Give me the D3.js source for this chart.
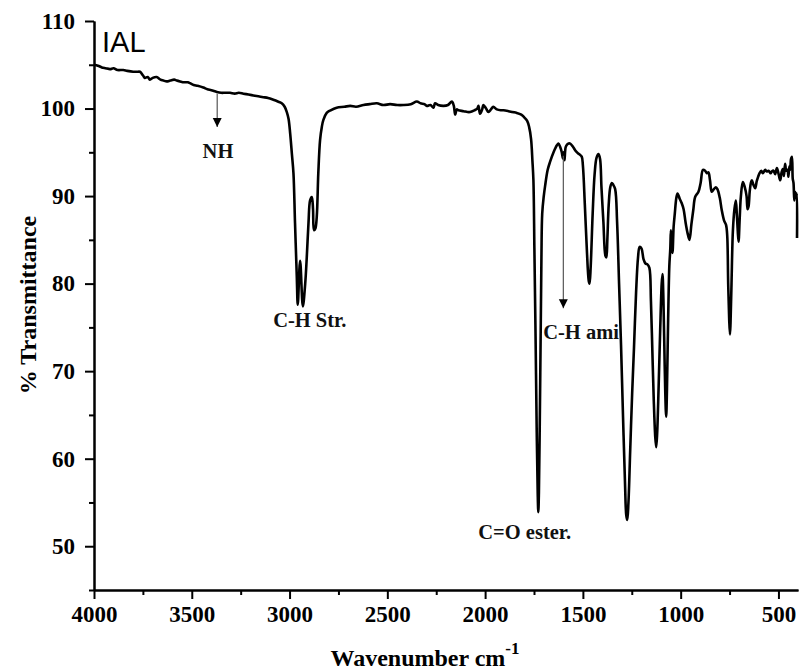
<!DOCTYPE html>
<html>
<head>
  <meta charset="utf-8">
  <script src="https://d3js.org/d3.v7.min.js"></script>
  <style>
    body { margin: 0; background: #fff; }
    .axis path, .axis line { stroke: #000; stroke-width: 2px; fill: none; }
    .axis text { font-family: "Liberation Serif", "Times New Roman", serif; font-weight: bold; font-size: 23px; fill: #000; }
    .title { font-family: "Liberation Serif", "Times New Roman", serif; font-weight: bold; fill: #000; }
    .note { font-family: "Liberation Serif", "Times New Roman", serif; font-weight: bold; font-size: 20.5px; fill: #111; }
  </style>
</head>
<body>
<div id="plot"></div>
<script>
// spectrum
var wavenumber = [4000,3980,3960,3940,3918,3900,3880,3850,3830,3800,3780,3765,3750,3740,3725,3714,3700,3680,3660,3645,3628,3610,3590,3577,3560,3540,3520,3509,3490,3470,3441,3420,3400,3372,3350,3330,3304,3280,3260,3236,3210,3185,3160,3134,3110,3083,3060,3040,3025,3014,3005,2997,2988,2980,2972,2963,2958,2946,2932,2920,2912,2903,2895,2886,2880,2875,2868,2861,2853,2844,2835,2827,2810,2790,2759,2720,2690,2660,2622,2590,2554,2520,2486,2450,2418,2380,2349,2330,2310,2298,2280,2264,2256,2240,2213,2190,2170,2160,2153,2145,2136,2110,2090,2077,2055,2040,2034,2026,2015,2009,1995,1983,1970,1958,1940,1920,1906,1880,1860,1838,1815,1800,1785,1775,1765,1758,1753,1748,1742,1736,1731,1728,1725,1721,1716,1712,1708,1700,1693,1680,1668,1650,1633,1625,1616,1608,1602,1598,1594,1588,1580,1573,1565,1550,1535,1520,1506,1500,1490,1480,1470,1466,1460,1450,1440,1430,1420,1412,1405,1395,1385,1380,1375,1368,1360,1352,1345,1335,1325,1315,1305,1295,1285,1278,1273,1267,1258,1248,1239,1228,1218,1210,1200,1190,1180,1170,1160,1152,1145,1138,1130,1125,1120,1113,1105,1097,1093,1088,1082,1076,1074,1070,1064,1058,1053,1050,1046,1042,1036,1030,1022,1016,1005,995,985,975,965,955,945,935,926,909,898,886,875,866,858,850,841,830,820,812,800,790,778,768,762,757,752,748,745,740,733,725,718,713,708,704,698,692,682,672,663,658,653,647,641,636,628,619,611,604,597,588,580,568,560,550,540,534,525,517,508,500,491,484,478,472,466,460,454,449,444,440,436,431,427,423,419,415,410,406,405];
var transmittance = [105.0,104.9,104.7,104.6,104.5,104.6,104.4,104.4,104.3,104.2,104.2,104.2,103.8,103.5,103.6,103.3,103.5,103.6,103.3,103.2,103.1,103.2,103.3,103.2,103.1,103.0,103.0,102.9,102.7,102.6,102.4,102.2,102.1,101.9,101.8,101.8,101.8,101.7,101.8,101.7,101.6,101.5,101.4,101.3,101.2,101.0,100.8,100.6,100.2,99.6,98.8,97.2,94.8,92.6,86.9,80.8,77.6,82.6,77.4,80.0,83.0,87.0,89.5,89.9,88.5,86.1,86.3,87.6,92.6,96.4,97.9,98.7,99.5,99.8,100.1,100.2,100.3,100.2,100.4,100.5,100.6,100.4,100.5,100.4,100.4,100.5,100.8,100.6,100.5,100.3,100.4,100.1,100.6,100.4,100.3,100.4,100.8,100.3,99.3,99.9,99.8,99.7,99.6,99.6,99.8,100.0,100.3,99.4,99.9,100.4,100.0,99.6,99.9,100.2,99.9,99.8,99.8,99.7,99.6,99.5,99.3,99.0,98.6,97.9,96.5,94.0,91.8,84.0,74.0,63.0,56.0,53.9,56.0,63.0,74.0,83.0,88.0,90.0,91.2,93.0,93.9,95.0,95.8,96.0,95.6,95.0,94.3,95.0,94.1,95.6,95.9,96.0,96.0,95.6,95.1,94.8,94.5,93.5,89.0,84.0,80.3,80.0,82.0,88.0,92.5,94.4,94.8,94.2,91.0,87.0,83.2,83.0,85.0,89.0,91.0,91.5,91.3,90.8,87.0,80.0,73.0,65.0,57.5,53.5,53.0,55.0,61.0,67.5,72.5,79.0,83.0,84.2,84.0,82.8,82.3,82.2,81.8,78.0,72.5,67.0,62.5,61.3,63.0,68.0,74.5,80.0,81.1,78.0,71.0,65.5,64.8,68.0,76.0,82.0,84.0,86.1,84.3,83.5,86.5,88.0,89.8,90.3,89.7,89.2,88.5,87.0,85.8,85.0,86.8,88.5,89.9,90.5,91.5,93.0,92.9,92.6,92.7,91.8,90.5,90.8,91.0,90.8,89.8,88.4,87.2,86.7,85.5,80.0,76.0,74.2,75.5,80.0,86.0,88.5,89.5,88.0,86.0,84.8,87.5,90.0,91.6,91.0,90.0,88.5,88.8,90.5,91.5,91.8,91.3,90.9,91.7,92.2,92.6,92.9,92.6,93.0,92.8,92.9,92.6,92.8,92.9,92.5,93.2,92.6,91.8,92.7,93.1,92.3,93.7,92.9,93.0,92.2,93.4,93.0,94.2,94.5,92.0,91.5,89.5,90.5,89.8,90.3,85.2];

var xMajor = [4000, 3500, 3000, 2500, 2000, 1500, 1000, 500];
var xMinor = [3750, 3250, 2750, 2250, 1750, 1250, 750];
var yMajor = [50, 60, 70, 80, 90, 100, 110];
var yMinor = [45, 55, 65, 75, 85, 95, 105];

// band labels: text, wavenumber, %T of baseline
var noteText = ["NH", "C-H Str.", "C-H ami", "C=O ester."];
var noteWave = [3366, 3084, 1703, 2035];
var noteT = [94.3, 75.0, 73.7, 50.8];
var noteAnchor = ["middle", "start", "start", "start"];

// arrows: wavenumber, from %T, to %T
var arrowWave = [3370, 1600];
var arrowFrom = [101.7, 94.6];
var arrowTo = [97.9, 77.2];

var W = 801, H = 672;
var x = d3.scaleLinear().domain([4000, 400]).range([94, 798]);
var y = d3.scaleLinear().domain([45, 110]).range([590, 21]);

var svg = d3.select('#plot').append('svg')
  .attr('width', W).attr('height', H);

svg.append('defs').append('marker')
  .attr('id', 'head')
  .attr('viewBox', '0 0 10 10')
  .attr('refX', 10).attr('refY', 5)
  .attr('markerWidth', 9).attr('markerHeight', 13)
  .attr('markerUnits', 'userSpaceOnUse')
  .attr('orient', 'auto')
  .append('path').attr('d', 'M0,0 L10,5 L0,10 Z').attr('fill', '#000');

// minor ticks first, then major axes on top
svg.append('g').attr('class', 'axis')
  .attr('transform', 'translate(0,590)')
  .call(d3.axisBottom(x).tickValues(xMinor).tickSize(5).tickSizeOuter(0).tickFormat(''));
svg.append('g').attr('class', 'axis')
  .attr('transform', 'translate(94,0)')
  .call(d3.axisLeft(y).tickValues(yMinor).tickSize(5).tickSizeOuter(0).tickFormat(''));

var xAxis = svg.append('g').attr('class', 'axis')
  .attr('transform', 'translate(0,590)')
  .call(d3.axisBottom(x).tickValues(xMajor).tickSize(9).tickSizeOuter(0)
    .tickPadding(6).tickFormat(d3.format('d')));
xAxis.selectAll('text').attr('dy', '0.75em');

svg.append('g').attr('class', 'axis')
  .attr('transform', 'translate(94,0)')
  .call(d3.axisLeft(y).tickValues(yMajor).tickSize(9).tickSizeOuter(0)
    .tickPadding(10).tickFormat(d3.format('d')));

// axis titles
var xt = svg.append('text').attr('class', 'title')
  .attr('x', 425).attr('y', 666)
  .attr('text-anchor', 'middle')
  .style('font-size', '24px');
xt.append('tspan').text('Wavenumber cm');
xt.append('tspan').attr('dy', -12).style('font-size', '17px').text('-1');

svg.append('text').attr('class', 'title')
  .attr('transform', 'translate(36,305) rotate(-90)')
  .attr('text-anchor', 'middle')
  .style('font-size', '24px')
  .text('% Transmittance');

// spectrum
var pts = d3.zip(wavenumber, transmittance);
svg.append('path')
  .datum(pts)
  .attr('fill', 'none')
  .attr('stroke', '#000')
  .attr('stroke-width', 2.6)
  .attr('stroke-linejoin', 'round')
  .attr('d', d3.line()
    .x(function(d){ return x(d[0]); })
    .y(function(d){ return y(d[1]); })
    .curve(d3.curveCatmullRom.alpha(0.5)));

// arrows
arrowWave.forEach(function(w, i){
  svg.append('line')
    .attr('x1', x(w)).attr('x2', x(w))
    .attr('y1', y(arrowFrom[i])).attr('y2', y(arrowTo[i]))
    .attr('stroke', '#555').attr('stroke-width', 1.2)
    .attr('marker-end', 'url(#head)');
});

// labels
noteText.forEach(function(t, i){
  svg.append('text').attr('class', 'note')
    .attr('x', x(noteWave[i])).attr('y', y(noteT[i]))
    .attr('text-anchor', noteAnchor[i])
    .text(t);
});

svg.append('text')
  .attr('x', 102).attr('y', 52)
  .style('font-family', '"Liberation Sans", Arial, sans-serif')
  .style('font-size', '29px')
  .text('IAL');
</script>
</body>
</html>
